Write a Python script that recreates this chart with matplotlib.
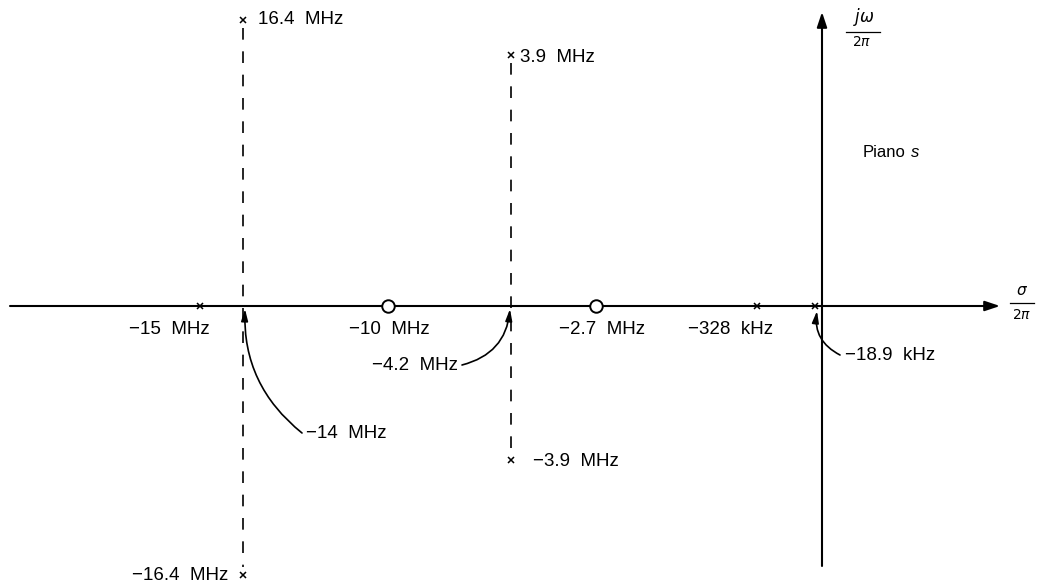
import matplotlib
matplotlib.use("Agg")
import matplotlib.pyplot as plt

# Poles and zeros of the amplifier transfer function (values as labelled)
real_poles = ["−15  MHz", "−328  kHz", "−18.9  kHz"]
real_pole_x = [200, 757, 815]          # schematic (not to scale) positions on the σ axis
zeros = ["−10  MHz", "−2.7  MHz"]
zero_x = [388, 596]
complex_real = ["−14  MHz", "−4.2  MHz"]
complex_x = [243, 511]
complex_imag_pos = ["16.4  MHz", "3.9  MHz"]
complex_imag_neg = ["−16.4  MHz", "−3.9  MHz"]
complex_y_pos = [20, 55]               # schematic heights above the σ axis
complex_y_neg = [575, 460]

AXIS_Y = 306
AXIS_X = 822

plt.rcParams["font.family"] = ["Liberation Sans", "DejaVu Sans"]
fig = plt.figure(figsize=(10.42, 5.83), dpi=100)
ax = fig.add_axes([0, 0, 1, 1])
ax.set_xlim(0, 1042)
ax.set_ylim(583, 0)
ax.axis("off")

fs = 13.5

# σ axis and jω axis
ax.annotate("", xy=(1000, AXIS_Y), xytext=(10, AXIS_Y),
            arrowprops=dict(arrowstyle="-|>,head_length=0.9,head_width=0.3",
                            lw=1.5, color="black", shrinkA=0, shrinkB=0))
ax.annotate("", xy=(AXIS_X, 12), xytext=(AXIS_X, 566),
            arrowprops=dict(arrowstyle="-|>,head_length=0.9,head_width=0.3",
                            lw=1.5, color="black", shrinkA=0, shrinkB=0))

ax.text(1022, 298, r"$\sigma$", ha="center", va="bottom", fontsize=11)
ax.plot([1010, 1034], [303, 303], color="black", lw=0.9)
ax.text(1022, 308, r"$2\pi$", ha="center", va="top", fontsize=10)
ax.text(864, 28, r"$j\omega$", ha="center", va="bottom", fontsize=12)
ax.plot([846, 880], [32, 32], color="black", lw=0.9)
ax.text(862, 35, r"$2\pi$", ha="center", va="top", fontsize=10)

ax.text(863, 157, "Piano", ha="left", va="baseline", fontsize=12)
ax.text(911, 157, "s", ha="left", va="baseline", fontsize=12, style="italic")

# real poles
ax.plot(real_pole_x, [AXIS_Y] * len(real_pole_x), "x", color="black",
        ms=4.5, mew=1.1, zorder=4)
ax.text(169, 330, real_poles[0], ha="center", va="center", fontsize=fs)
ax.text(731, 330, real_poles[1], ha="center", va="center", fontsize=fs)
ax.text(845, 355, real_poles[2], ha="left", va="center", fontsize=fs)
ax.annotate("", xy=(817, 311), xytext=(840, 355),
            arrowprops=dict(arrowstyle="-|>,head_length=0.7,head_width=0.2",
                            lw=1.2, color="black", shrinkA=0, shrinkB=0,
                            connectionstyle="arc3,rad=-0.35"))

# zeros
ax.plot(zero_x, [AXIS_Y] * len(zero_x), "o", ms=9, mfc="white",
        mec="black", mew=1.4, zorder=5)
ax.text(389, 330, zeros[0], ha="center", va="center", fontsize=fs)
ax.text(602, 330, zeros[1], ha="center", va="center", fontsize=fs)

# complex pole pairs
for i in range(2):
    x = complex_x[i]
    ax.plot([x, x], [complex_y_pos[i] + 8, complex_y_neg[i] - 8], color="black",
            lw=1.2, linestyle=(0, (7, 7)), zorder=2)
    ax.plot([x, x], [complex_y_pos[i], complex_y_neg[i]], "x", color="black",
            ms=4.5, mew=1.1, linestyle="none", zorder=4)

ax.text(258, 20, complex_imag_pos[0], ha="left", va="center", fontsize=fs)
ax.text(228, 576, complex_imag_neg[0], ha="right", va="center", fontsize=fs)
ax.text(520, 57, complex_imag_pos[1], ha="left", va="center", fontsize=fs)
ax.text(533, 461, complex_imag_neg[1], ha="left", va="center", fontsize=fs)

ax.text(306, 433, complex_real[0], ha="left", va="center", fontsize=fs)
ax.annotate("", xy=(245, 309), xytext=(302, 433),
            arrowprops=dict(arrowstyle="-|>,head_length=0.7,head_width=0.2",
                            lw=1.2, color="black", shrinkA=0, shrinkB=0,
                            connectionstyle="arc3,rad=-0.25"))
ax.text(458, 365, complex_real[1], ha="right", va="center", fontsize=fs)
ax.annotate("", xy=(510, 309), xytext=(462, 365),
            arrowprops=dict(arrowstyle="-|>,head_length=0.7,head_width=0.2",
                            lw=1.2, color="black", shrinkA=0, shrinkB=0,
                            connectionstyle="arc3,rad=0.35"))

fig.savefig("out.png", dpi=100, facecolor="white")
